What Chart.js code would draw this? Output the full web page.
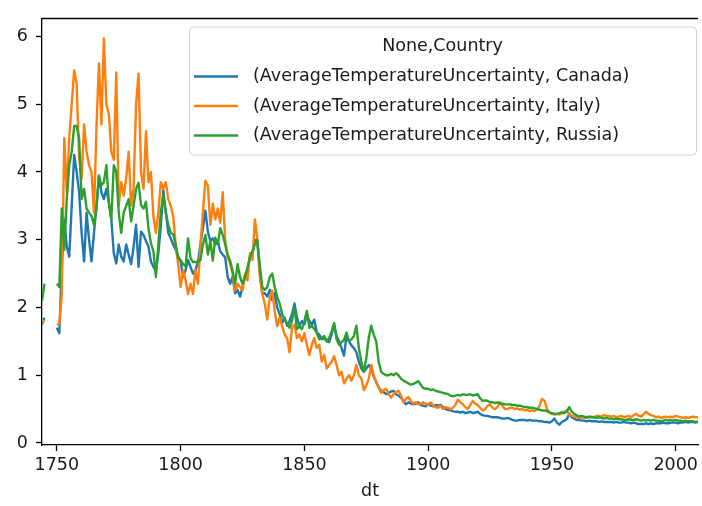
<!DOCTYPE html>
<html>
<head>
<meta charset="utf-8">
<script src="https://cdn.jsdelivr.net/npm/chart.js@4.4.1/dist/chart.umd.min.js"></script>
<style>
    html, body { margin: 0; padding: 0; background: #fff; }
    #wrap { position: relative; width: 702px; height: 506px; }
</style>
</head>
<body>
<div id="wrap"><canvas id="uncertaintyChart"></canvas></div>
<script>
// Yearly average temperature uncertainty, one value per year from firstYear (null = no data)
// ----------------------------------------------
const firstYear = 1744;

const canada = [
    1.75, 1.85, null, null, null, null,
    1.7, 1.62, 2.6, 3.3, 2.9, 2.75, 3.5, 4.25, 4.0, 3.7,
    3.1, 2.68, 3.4, 3.0, 2.68, 3.1, 3.5, 3.95, 3.7, 3.6,
    3.75, 3.55, 3.3, 2.8, 2.65, 2.93, 2.75, 2.68, 2.93, 2.78,
    2.64, 2.9, 3.22, 2.6, 3.12, 3.07, 2.98, 2.9, 2.68, 2.6,
    2.54, 2.8, 3.2, 3.73, 3.41, 3.1, 3.02, 2.93, 2.85, 2.75,
    2.68, 2.45, 2.55, 2.7, 2.6, 2.5, 2.55, 2.67, 2.93, 3.17,
    3.43, 3.12, 2.98, 3.02, 2.93, 2.98, 2.83, 2.78, 2.74, 2.45,
    2.35, 2.45, 2.21, 2.26, 2.16, 2.3, 2.45, 2.54, 2.74, 2.78,
    3.0, 2.95, 2.54, 2.2, 2.21, 2.16, 2.26, 2.11, 2.21, 2.0,
    1.9, 1.77, 1.85, 1.73, 1.8, 1.9, 2.06, 1.85, 1.73, 1.8,
    1.75, 1.89, 1.8, 1.75, 1.82, 1.63, 1.6, 1.53, 1.55, 1.5,
    1.49, 1.6, 1.75, 1.58, 1.5, 1.4, 1.29, 1.58, 1.5, 1.44,
    1.4, 1.34, 1.2, 1.1, 1.05, 1.1, 1.15, 1.1, 0.98, 0.9,
    0.82, 0.77, 0.75, 0.72, 0.74, 0.76, 0.77, 0.72, 0.7, 0.67,
    0.62, 0.57, 0.6, 0.58, 0.57, 0.58, 0.6, 0.56, 0.55, 0.54,
    0.58, 0.55, 0.54, 0.56, 0.55, 0.56, 0.53, 0.5, 0.49, 0.48,
    0.47, 0.46, 0.46, 0.45, 0.46, 0.44, 0.45, 0.46, 0.44, 0.45,
    0.46, 0.43, 0.41, 0.4, 0.4, 0.39, 0.38, 0.38, 0.38, 0.37,
    0.36, 0.36, 0.37, 0.36, 0.34, 0.33, 0.33, 0.34, 0.34, 0.34,
    0.33, 0.34, 0.33, 0.33, 0.33, 0.32, 0.32, 0.31, 0.31, 0.3,
    0.32, 0.36, 0.3, 0.27, 0.31, 0.33, 0.35, 0.43, 0.38, 0.36,
    0.34, 0.34, 0.33, 0.33, 0.32, 0.33, 0.32, 0.32, 0.32, 0.31,
    0.32, 0.31, 0.31, 0.31, 0.31, 0.3, 0.31, 0.3, 0.3, 0.31,
    0.3, 0.3, 0.29, 0.3, 0.29, 0.28, 0.28, 0.28, 0.29, 0.28,
    0.29, 0.28, 0.29, 0.29, 0.29, 0.3, 0.29, 0.29, 0.3, 0.3,
    0.3, 0.29, 0.3, 0.3, 0.31, 0.3, 0.31, 0.31, 0.3, 0.31,
    0.3, 0.31, 0.3, 0.32
];

const italy = [
    1.8, 1.8, null, null, null, null,
    1.75, 1.75, 2.2, 4.5, 3.7, 4.5, 5.0, 5.5, 5.3, 4.2,
    3.9, 4.7, 4.3, 4.1, 4.0, 3.4, 4.66, 5.6, 4.7, 5.97,
    5.0, 4.85, 4.3, 4.18, 5.47, 3.5, 3.85, 3.65, 3.9, 4.3,
    3.5, 3.75, 5.0, 5.45, 4.0, 3.75, 4.6, 3.85, 4.0, 3.35,
    3.1, 3.4, 3.85, 3.75, 3.85, 3.6, 3.5, 3.35, 2.93, 2.64,
    2.3, 2.55, 2.4, 2.2, 2.35, 2.2, 2.55, 2.35, 2.9, 3.41,
    3.87, 3.8, 3.22, 3.53, 3.3, 3.46, 3.25, 3.7, 3.0, 2.74,
    2.64, 2.5, 2.25, 2.35, 2.3, 2.25, 2.5, 2.4, 2.8, 2.7,
    3.3, 3.0, 2.45, 2.2, 2.05, 1.82, 2.15, 2.25, 1.95, 1.72,
    1.85, 1.73, 1.6, 1.55, 1.34, 1.7, 1.75, 1.55, 1.6, 1.5,
    1.62, 1.45, 1.3, 1.45, 1.55, 1.4, 1.45, 1.2, 1.3, 1.1,
    1.15, 1.2, 1.28, 1.15, 1.0, 1.05, 0.88, 0.95, 1.0, 0.92,
    1.0, 1.15, 1.0, 0.95, 0.78, 0.85, 0.95, 1.15, 1.0, 0.9,
    0.82, 0.74, 0.78, 0.8, 0.72, 0.67, 0.72, 0.75, 0.77, 0.7,
    0.6, 0.65, 0.68, 0.62, 0.58, 0.6, 0.57, 0.58, 0.6, 0.58,
    0.56, 0.6, 0.55, 0.53, 0.52, 0.55, 0.5, 0.53, 0.52, 0.5,
    0.52, 0.56, 0.64, 0.6, 0.57, 0.53, 0.5, 0.56, 0.62, 0.58,
    0.56, 0.52, 0.48, 0.5, 0.55, 0.57, 0.52, 0.5, 0.53, 0.6,
    0.55, 0.5, 0.5, 0.52, 0.52, 0.5, 0.51, 0.49, 0.5, 0.48,
    0.49, 0.47, 0.48, 0.47, 0.5, 0.55, 0.65, 0.62, 0.5, 0.45,
    0.43, 0.42, 0.43, 0.42, 0.44, 0.46, 0.48, 0.42, 0.4, 0.39,
    0.38, 0.37, 0.38, 0.37, 0.37, 0.38, 0.39, 0.38, 0.4, 0.4,
    0.39, 0.41, 0.4, 0.4, 0.39, 0.4, 0.38, 0.39, 0.4, 0.38,
    0.39, 0.4, 0.38, 0.41, 0.43, 0.4, 0.39, 0.42, 0.46, 0.43,
    0.41, 0.4, 0.38, 0.39, 0.37, 0.38, 0.39, 0.38, 0.39, 0.38,
    0.4, 0.39, 0.38, 0.37, 0.38, 0.37, 0.38, 0.39, 0.38, 0.38,
    0.37, 0.38, 0.36, 0.4
];

const russia = [
    2.1, 2.35, null, null, null, null,
    2.35, 2.3, 3.46, 2.85, 3.6, 4.1, 4.3, 4.68, 4.68, 4.5,
    3.6, 3.75, 3.46, 3.4, 3.35, 3.22, 3.46, 3.94, 3.8, 3.85,
    4.1, 3.55, 3.3, 4.1, 4.0, 3.4, 3.1, 3.4, 3.5, 3.6,
    3.27, 3.5, 3.75, 3.84, 3.51, 3.46, 3.56, 3.17, 2.95, 2.83,
    2.45, 2.93, 3.41, 3.65, 3.4, 3.22, 3.1, 3.08, 2.93, 2.73,
    2.7, 2.64, 2.6, 3.02, 2.73, 2.67, 2.67, 2.67, 2.7, 2.93,
    3.07, 2.78, 2.98, 2.69, 3.03, 2.93, 3.17, 3.07, 2.93, 2.78,
    2.69, 2.54, 2.35, 2.64, 2.45, 2.35, 2.45, 2.59, 2.74, 2.83,
    2.93, 3.0, 2.6, 2.3, 2.26, 2.3, 2.45, 2.5, 2.3, 2.16,
    2.06, 1.9, 1.82, 1.77, 1.7, 1.8, 2.0, 1.68, 1.72, 1.68,
    1.8, 1.95, 1.7, 1.73, 1.68, 1.63, 1.53, 1.55, 1.58, 1.5,
    1.55, 1.65, 1.77, 1.53, 1.45, 1.49, 1.52, 1.63, 1.5, 1.53,
    1.58, 1.73, 1.4, 1.2, 1.05, 1.25, 1.55, 1.73, 1.6, 1.5,
    1.2, 1.05, 1.02, 1.0, 1.0, 1.02, 1.0, 1.03, 1.0, 0.95,
    0.92, 0.9, 0.88, 0.86, 0.87, 0.89, 0.91, 0.86, 0.81, 0.8,
    0.8, 0.78, 0.79, 0.77, 0.76, 0.75, 0.74, 0.73, 0.72, 0.7,
    0.69, 0.7, 0.71, 0.7, 0.72, 0.71, 0.71, 0.72, 0.7, 0.71,
    0.72, 0.66, 0.62, 0.63, 0.62, 0.6, 0.6, 0.59, 0.6, 0.58,
    0.58, 0.57, 0.57, 0.57, 0.56, 0.56, 0.55, 0.55, 0.54, 0.53,
    0.53, 0.52, 0.52, 0.51, 0.5, 0.49, 0.48, 0.48, 0.47, 0.45,
    0.44, 0.43, 0.43, 0.44, 0.45, 0.44, 0.47, 0.53, 0.46, 0.43,
    0.41, 0.39, 0.4, 0.39, 0.38, 0.39, 0.38, 0.38, 0.37, 0.38,
    0.37, 0.36, 0.37, 0.36, 0.36, 0.35, 0.36, 0.35, 0.35, 0.34,
    0.34, 0.35, 0.34, 0.34, 0.35, 0.34, 0.33, 0.34, 0.33, 0.34,
    0.33, 0.34, 0.33, 0.33, 0.32, 0.33, 0.34, 0.33, 0.34, 0.33,
    0.34, 0.33, 0.33, 0.32, 0.33, 0.32, 0.32, 0.32, 0.31, 0.32,
    0.31, 0.32, 0.31, 0.33
];

const seriesLabels = [
    '(AverageTemperatureUncertainty, Canada)',
    '(AverageTemperatureUncertainty, Italy)',
    '(AverageTemperatureUncertainty, Russia)'
];
const seriesColors = ['#1f77b4', '#ff7f0e', '#2ca02c'];
const legendTitle  = 'None,Country';
const xTicks       = [1750, 1800, 1850, 1900, 1950, 2000];
const yTicks       = [0, 1, 2, 3, 4, 5, 6];


document.addEventListener( "DOMContentLoaded", () => {

    const fontFamily = "'DejaVu Sans', 'Liberation Sans', sans-serif";
    const fontSize   = 17.5;
    Chart.defaults.font.family = fontFamily;
    Chart.defaults.font.size   = fontSize;
    Chart.defaults.color       = '#000';

    const years    = canada.map((_, i) => firstYear + i);
    const toPoints = (values) => values.map((v, i) => ({ x: years[i], y: v }));


    // Matplotlib style legend box in the upper right corner
    // ----------------------------------------------
    const boxLegend = {
        id: 'boxLegend',
        afterDatasetsDraw(chart) {
            const { ctx, chartArea } = chart;
            const width  = 507;
            const rowH   = 29.5;
            const right  = chartArea.right - 2;
            const left   = right - width;
            const top    = chartArea.top + 8;
            const height = 128;

            ctx.save();
            ctx.beginPath();
            ctx.roundRect(left + 0.5, top + 0.5, width, height, 4);
            ctx.fillStyle = 'rgba(255,255,255,0.8)';
            ctx.fill();
            ctx.strokeStyle = '#d0d0d0';
            ctx.lineWidth = 1;
            ctx.stroke();

            ctx.font = `${fontSize}px ${fontFamily}`;
            ctx.fillStyle = '#1a1a1a';
            ctx.textBaseline = 'middle';
            ctx.textAlign = 'center';
            ctx.fillText(legendTitle, left + width / 2, top + 20);

            ctx.textAlign = 'left';
            chart.data.datasets.forEach((ds, i) => {
                const y = top + 50 + i * rowH;
                ctx.beginPath();
                ctx.moveTo(left + 5, y);
                ctx.lineTo(left + 49, y);
                ctx.strokeStyle = ds.borderColor;
                ctx.lineWidth = 2.6;
                ctx.stroke();
                ctx.fillText(ds.label, left + 64, y);
            });
            ctx.restore();
        }
    };

    // Top spine
    const topSpine = {
        id: 'topSpine',
        afterDraw(chart) {
            const { ctx, chartArea } = chart;
            ctx.save();
            ctx.beginPath();
            ctx.moveTo(chartArea.left, chartArea.top);
            ctx.lineTo(chartArea.right, chartArea.top);
            ctx.strokeStyle = '#000';
            ctx.lineWidth = 1.3;
            ctx.stroke();
            ctx.restore();
        }
    };


    const chart = new Chart(
        document.getElementById('uncertaintyChart'), {
            type: 'line',
            data: {
                datasets: [canada, italy, russia].map((values, i) => ({
                    label: seriesLabels[i],
                    data: toPoints(values),
                    borderColor: seriesColors[i],
                    backgroundColor: seriesColors[i],
                    borderWidth: 2.4,
                    borderJoinStyle: 'round',
                    pointRadius: 0,
                    tension: 0,
                    clip: 0,
                    // green drawn on top, blue at the bottom
                    order: 3 - i
                }))
            },
            options: {
                responsive: true,
                maintainAspectRatio: false,
                animation: false,
                layout: { padding: { top: 9, right: 0, left: 0, bottom: 0 } },
                plugins: {
                    legend: { display: false },
                    tooltip: { enabled: false }
                },
                scales: {
                    x: {
                        type: 'linear',
                        min: 1744,
                        max: 2009,
                        afterBuildTicks: (scale) => { scale.ticks = xTicks.map(v => ({ value: v })); },
                        afterFit: (scale) => { scale.height = 61; },
                        grid: {
                            drawOnChartArea: false,
                            tickLength: 6,
                            tickColor: '#000',
                            tickWidth: 1.3
                        },
                        border: { display: true, color: '#000', width: 1.3 },
                        ticks: {
                            padding: 4,
                            maxRotation: 0,
                            color: '#1a1a1a',
                            callback: (v) => String(v)
                        },
                        title: {
                            display: true,
                            text: 'dt',
                            color: '#1a1a1a',
                            padding: { top: 0, bottom: 4 }
                        }
                    },
                    y: {
                        min: -0.03,
                        max: 6.265,
                        afterBuildTicks: (scale) => { scale.ticks = yTicks.map(v => ({ value: v })); },
                        afterFit: (scale) => { scale.width = 42; },
                        grid: {
                            drawOnChartArea: false,
                            tickLength: 6,
                            tickColor: '#000',
                            tickWidth: 1.3
                        },
                        border: { display: true, color: '#000', width: 1.3 },
                        ticks: {
                            padding: 8,
                            color: '#1a1a1a',
                            callback: (v) => String(v)
                        }
                    }
                }
            },
            plugins: [boxLegend, topSpine]
        }
    );

});
</script>
</body>
</html>
